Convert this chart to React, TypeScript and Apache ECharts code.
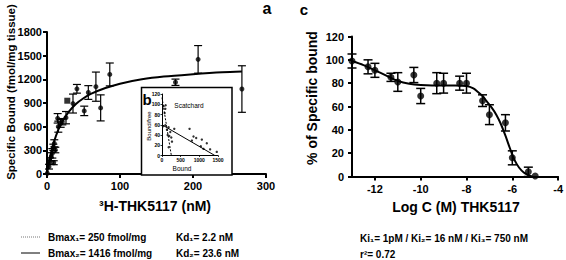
import React, { useEffect, useRef } from "react";
import * as echarts from "echarts";

// ---------- Panel a: saturation binding ----------
// [concentration nM, specific bound fmol/mg, error]
const satPoints: number[][] = [
  [0.4, 9, 0], [2.7, 93, 30], [4.1, 165, 40], [5.9, 220, 50], [7.3, 262, 60],
  [8.7, 338, 40], [10, 389, 45], [9.2, 143, 25], [11.4, 304, 35],
  [14.6, 706, 60], [15.5, 600, 70], [18.7, 642, 50], [21, 663, 40],
  [26, 714, 78], [35.6, 893, 120], [41, 1080, 55], [51, 800, 60],
  [56.6, 1033, 87], [67, 1107, 185], [73.5, 838, 165], [86, 1262, 145],
  [176, 1163, 40], [207, 1453, 175], [267, 1077, 295],
];
const satSquare: number[][] = [[27.8, 929]];
const satCurveX = [0, 2, 5, 10, 15, 20, 30, 40, 50, 60, 80, 100, 130, 160, 200, 240, 267];
const satCurveY = [0, 110, 250, 420, 550, 650, 790, 890, 960, 1015, 1090, 1145, 1200, 1235, 1265, 1290, 1300];

// ---------- Panel b: Scatchard inset ----------
// [bound, bound/free]
const scatPoints: number[][] = [
  [44, 96], [98, 98], [89, 91], [71, 83], [27, 57], [89, 59], [178, 55], [133, 50],
  [222, 46], [151, 40], [196, 38], [249, 35], [267, 27], [178, 16], [329, 52],
  [738, 52], [844, 37], [916, 34], [800, 29], [1067, 31], [1200, 24], [1040, 18],
  [1111, 13], [1289, 12], [1467, 7],
];
const scatLine1: number[][] = [[0, 113], [250, 0]];
const scatLine2: number[][] = [[0, 60], [1416, 0]];

// ---------- Panel c: competition ----------
const compLogC = [-13, -12.3, -12, -11.3, -11, -10.3, -10, -9.3, -9, -8.3, -8, -7.3, -7, -6.3, -6, -5.3, -5];
const compValues = [99, 94, 91, 85, 81, 87, 69, 80, 80, 80, 80, 65, 53, 46, 16, 4, 0.4];
const compErr = [6, 6, 6, 3.5, 8, 6.5, 6.5, 9, 8.5, 6, 8.5, 5, 8.5, 7, 6, 4, 0];
const compCurveX = [-13, -12.5, -12, -11.5, -11, -10.5, -10, -9, -8.5, -8, -7.7, -7.5, -7.3, -7.1, -6.9, -6.7, -6.5, -6.3, -6.1, -5.9, -5.7, -5.5, -5.3, -5.15];
const compCurveY = [99, 95.5, 91, 86.5, 82, 79.5, 78.5, 78, 78, 77.5, 75.5, 72.5, 69, 64, 59, 53, 45, 35, 24, 14, 7.5, 3.5, 1.2, 0];
const compXTicks = [-12, -10, -8, -6, -4];

const FONT = '"Liberation Sans", Arial, sans-serif';
const plain = (v: number) => String(v);

function errorBarSeries(data: number[][], xi: number, yi: number, cap: number, lw: number) {
  return {
    type: "custom",
    xAxisIndex: xi,
    yAxisIndex: yi,
    dimensions: ["x", "y", "e"],
    encode: { x: 0, y: 1 },
    data,
    z: 3,
    clip: false,
    renderItem: (_p: any, api: any) => {
      const x = api.value(0);
      const y = api.value(1);
      const e = api.value(2);
      if (!e) return { type: "group", children: [] };
      const t = api.coord([x, y + e]);
      const b = api.coord([x, y - e]);
      const st = { stroke: "#000", lineWidth: lw };
      return {
        type: "group",
        children: [
          { type: "line", shape: { x1: t[0], y1: t[1], x2: b[0], y2: b[1] }, style: st },
          { type: "line", shape: { x1: t[0] - cap / 2, y1: t[1], x2: t[0] + cap / 2, y2: t[1] }, style: st },
          { type: "line", shape: { x1: b[0] - cap / 2, y1: b[1], x2: b[0] + cap / 2, y2: b[1] }, style: st },
        ],
      };
    },
  };
}

function txt(text: string, x: number, y: number, font: string, align = "left", rotation = 0, z = 20) {
  return {
    type: "text",
    x,
    y,
    rotation,
    z,
    style: {
      text,
      font,
      fill: "#000",
      textAlign: align,
      textVerticalAlign: "middle",
      align,
      verticalAlign: "middle",
    },
  };
}

function mainLabel(margin: number, extra: any = {}) {
  return { color: "#000", fontWeight: "bold", fontSize: 11, fontFamily: FONT, margin, formatter: plain, ...extra };
}

function mainAxis(extra: any) {
  return {
    type: "value",
    axisLine: { show: true, lineStyle: { color: "#000", width: 2 } },
    axisTick: { show: true, length: 4, inside: false, lineStyle: { color: "#000", width: 2 } },
    splitLine: { show: false },
    ...extra,
  };
}

function insetAxis(extra: any) {
  return {
    type: "value",
    z: 6,
    axisLine: { show: true, lineStyle: { color: "#000", width: 1 } },
    axisTick: { show: true, length: 1.5, lineStyle: { color: "#000", width: 0.8 } },
    axisLabel: { color: "#000", fontWeight: "bold", fontSize: 5, fontFamily: FONT, margin: 2, formatter: plain },
    splitLine: { show: false },
    ...extra,
  };
}

export default function App() {
  const ref = useRef<HTMLDivElement>(null);

  useEffect(() => {
    document.body.style.margin = "0";
    if (!ref.current) return;
    const chart = echarts.init(ref.current, undefined, { renderer: "svg" });

    const satCurve = satCurveX.map((x, i) => [x, satCurveY[i]]);
    const compCurve = compCurveX.map((x, i) => [x, compCurveY[i]]);
    const compPts = compLogC.map((x, i) => [x, compValues[i], compErr[i]]);

    const option: any = {
      animation: false,
      textStyle: { fontFamily: FONT },
      grid: [
        { left: 47, top: 32, width: 219, height: 142 },
        { left: 162, top: 94, width: 56, height: 61.5 },
        { left: 352, top: 36.5, width: 209, height: 140 },
      ],
      xAxis: [
        mainAxis({ gridIndex: 0, min: 0, max: 300, interval: 100, axisLabel: mainLabel(6) }),
        insetAxis({ gridIndex: 1, min: 0, max: 1500, interval: 500 }),
        mainAxis({
          gridIndex: 2,
          min: -13,
          max: -4,
          axisTick: { show: true, length: 4, lineStyle: { color: "#000", width: 2 }, customValues: compXTicks },
          axisLabel: mainLabel(7, { customValues: compXTicks }),
        }),
      ],
      yAxis: [
        mainAxis({ gridIndex: 0, min: 0, max: 1800, interval: 300, axisLabel: mainLabel(5) }),
        insetAxis({ gridIndex: 1, min: 0, max: 120, interval: 20 }),
        mainAxis({ gridIndex: 2, min: 0, max: 120, interval: 20, axisLabel: mainLabel(8) }),
      ],
      series: [
        // panel a
        {
          type: "line", xAxisIndex: 0, yAxisIndex: 0, data: satCurve, smooth: 0.3,
          showSymbol: false, symbol: "none", lineStyle: { color: "#000", width: 2 }, z: 2,
        },
        errorBarSeries(satPoints, 0, 0, 8, 1.2),
        {
          type: "scatter", xAxisIndex: 0, yAxisIndex: 0, data: satPoints.map((p) => [p[0], p[1]]),
          symbol: "circle", symbolSize: 5, itemStyle: { color: "#000" }, z: 4,
        },
        {
          type: "scatter", xAxisIndex: 0, yAxisIndex: 0, data: satSquare,
          symbol: "rect", symbolSize: 6, itemStyle: { color: "#000" }, z: 4,
        },
        // panel b
        {
          type: "line", xAxisIndex: 1, yAxisIndex: 1, data: scatLine1, showSymbol: false, symbol: "none",
          lineStyle: { color: "#000", width: 1, type: [2, 1.5] }, z: 7,
        },
        {
          type: "line", xAxisIndex: 1, yAxisIndex: 1, data: scatLine2, showSymbol: false, symbol: "none",
          lineStyle: { color: "#000", width: 1 }, z: 7,
        },
        {
          type: "scatter", xAxisIndex: 1, yAxisIndex: 1, data: scatPoints,
          symbol: "circle", symbolSize: 2.4, itemStyle: { color: "#000" }, z: 8,
        },
        // panel c
        {
          type: "line", xAxisIndex: 2, yAxisIndex: 2, data: compCurve, smooth: 0.3,
          showSymbol: false, symbol: "none", lineStyle: { color: "#000", width: 2 }, z: 2,
        },
        errorBarSeries(compPts, 2, 2, 9, 1.5),
        {
          type: "scatter", xAxisIndex: 2, yAxisIndex: 2, data: compPts.map((p) => [p[0], p[1]]),
          symbol: "circle", symbolSize: 7, itemStyle: { color: "#000" }, z: 4,
        },
      ],
      graphic: [
        {
          type: "rect", z: 5,
          shape: { x: 141.5, y: 87.5, width: 90.5, height: 87.5 },
          style: { fill: "#fff", stroke: "#000", lineWidth: 1.5 },
        },
        txt("a", 267, 8, `bold 16px ${FONT}`, "center"),
        txt("c", 304, 9, `bold 15px ${FONT}`, "center"),
        txt("b", 147, 99, `bold 15px ${FONT}`, "center"),
        txt("Scatchard", 189, 105, `6.5px ${FONT}`, "center"),
        txt("Bound", 182, 168, `6.5px ${FONT}`, "center"),
        txt("Bound/free", 149, 126, `6px ${FONT}`, "center", Math.PI / 2),
        txt("Specific Bound (fmol/mg tissue)", 11, 92, `bold 11.5px ${FONT}`, "center", Math.PI / 2),
        txt("% of Specific bound", 312, 98, `bold 14px ${FONT}`, "center", Math.PI / 2),
        txt("³H-THK5117 (nM)", 155, 206, `bold 14px ${FONT}`, "center"),
        txt("Log C (M) THK5117", 456, 207, `bold 14px ${FONT}`, "center"),
        {
          type: "line", z: 20, shape: { x1: 21, y1: 237, x2: 40, y2: 237 },
          style: { stroke: "#777", lineWidth: 1, lineDash: [1, 1] },
        },
        {
          type: "line", z: 20, shape: { x1: 21, y1: 253, x2: 40, y2: 253 },
          style: { stroke: "#000", lineWidth: 1 },
        },
        txt("Bmax₁= 250 fmol/mg", 48, 237, `bold 10px ${FONT}`),
        txt("Kd₁= 2.2 nM", 176, 237, `bold 10px ${FONT}`),
        txt("Bmax₂= 1416 fmol/mg", 48, 253, `bold 10px ${FONT}`),
        txt("Kd₂= 23.6 nM", 176, 253, `bold 10px ${FONT}`),
        txt("Ki₁= 1pM / Ki₂= 16 nM / Ki₃= 750 nM", 360, 238, `bold 10px ${FONT}`),
        txt("r²= 0.72", 360, 254, `bold 10px ${FONT}`),
      ],
    };

    chart.setOption(option);
    return () => chart.dispose();
  }, []);

  return <div ref={ref} style={{ width: 566, height: 260 }} />;
}
